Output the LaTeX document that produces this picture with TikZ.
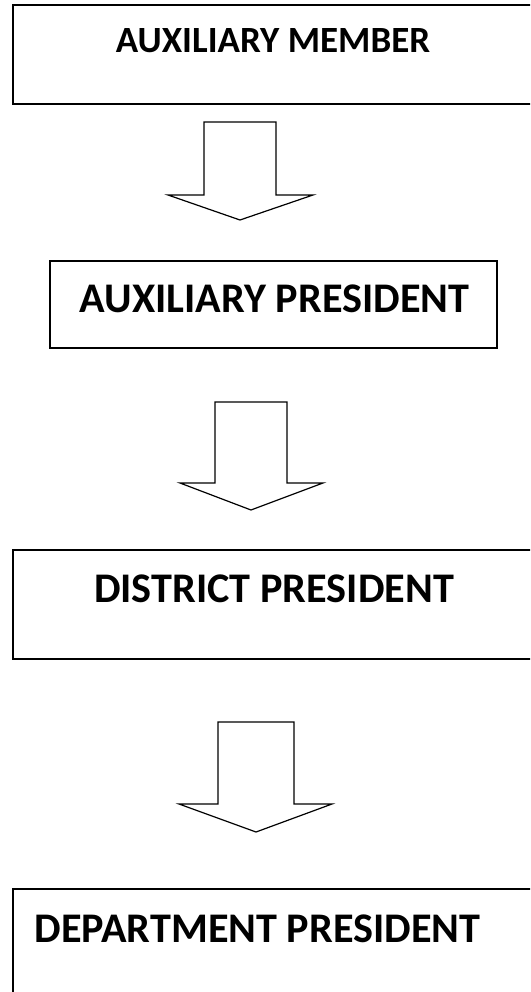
\documentclass[tikz,border=0pt]{standalone}
\usepackage{fontspec}
\setmainfont{Carlito}
\begin{document}
\begin{tikzpicture}[x=1pt,y=-1pt,
  boxline/.style={draw=black,line width=1.8pt},
  blockarrow/.style={draw=black,line width=1.2pt,line join=miter,fill=white},
  lbl/.style={anchor=base,inner sep=0pt,font=\bfseries}]
\useasboundingbox (0,0) rectangle (530,992);
\clip (0,0) rectangle (530,992);
\fill[white] (0,0) rectangle (530,992);
% boxes
\draw[boxline] (13,5) rectangle (545,104);
\draw[boxline] (50,261) rectangle (497,348);
\draw[boxline] (13,550) rectangle (545,659);
\draw[boxline] (13,889) rectangle (545,1005);
% labels
\node[lbl,font=\bfseries\fontsize{37}{44}\selectfont] (t1) at (273,53) {AUXILIARY MEMBER};
\node[lbl,font=\bfseries\fontsize{42.2}{50}\selectfont] (t2) at (274.5,312) {AUXILIARY PRESIDENT};
\node[lbl,font=\bfseries\fontsize{42.2}{50}\selectfont] (t3) at (274,602) {DISTRICT PRESIDENT};
\node[lbl,font=\bfseries\fontsize{42.2}{50}\selectfont] (t4) at (257.5,942) {DEPARTMENT PRESIDENT};
% block arrows
\draw[blockarrow] (204,122) -- (276,122) -- (276,195) -- (313,195) -- (240,220) -- (168,195) -- (204,195) -- cycle;
\draw[blockarrow] (215,402) -- (287,402) -- (287,483) -- (323,483) -- (251,510) -- (180,483) -- (215,483) -- cycle;
\draw[blockarrow] (218,722) -- (294,722) -- (294,804) -- (332,804) -- (256,832) -- (179,804) -- (218,804) -- cycle;
\end{tikzpicture}
\end{document}
